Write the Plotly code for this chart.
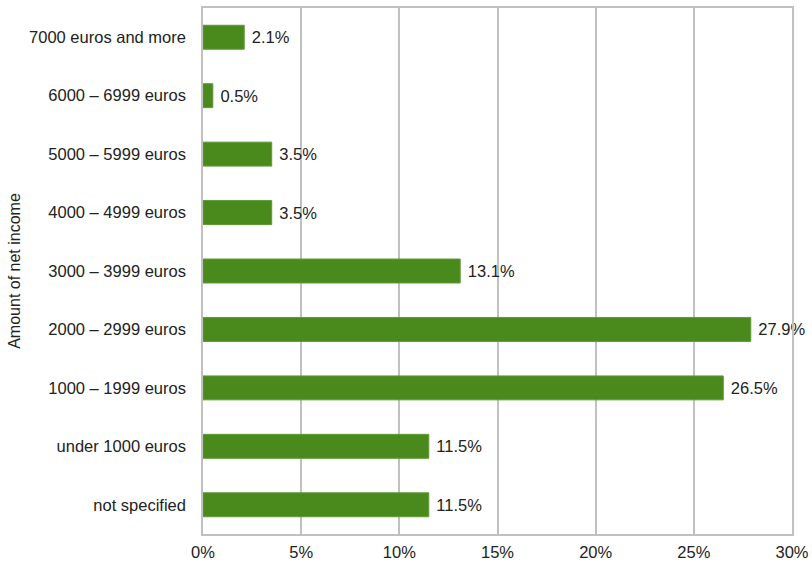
import plotly.graph_objects as go

categories = ["not specified", "under 1000 euros", "1000 – 1999 euros", "2000 – 2999 euros",
              "3000 – 3999 euros", "4000 – 4999 euros", "5000 – 5999 euros",
              "6000 – 6999 euros", "7000 euros and more"]
values = [11.5, 11.5, 26.5, 27.9, 13.1, 3.5, 3.5, 0.5, 2.1]
x_ticks = [0, 5, 10, 15, 20, 25, 30]
x_tick_labels = ["0%", "5%", "10%", "15%", "20%", "25%", "30%"]

fig = go.Figure(go.Bar(
    y=categories, x=values, orientation="h",
    marker=dict(color="#4a891c", line=dict(color="#5f9a36", width=1)),
    width=0.41,
    text=[f" {v}%" for v in values], textposition="outside",
    textfont=dict(family="Liberation Sans, Arial", size=16.5, color="#222222"),
    cliponaxis=False,
))

fig.update_layout(
    width=812, height=563,
    margin=dict(l=203, r=20, t=8, b=29),
    plot_bgcolor="white", paper_bgcolor="white",
    font=dict(family="Liberation Sans, Arial", size=16.5, color="#222222"),
    showlegend=False,
    bargap=0.59,
)
fig.update_xaxes(
    range=[0, 30], tickvals=x_ticks, ticktext=x_tick_labels,
    showgrid=True, gridcolor="#c0c0c0", gridwidth=1.5,
    showline=True, linecolor="#c0c0c0", linewidth=1.5, mirror=True,
    zeroline=False, ticks="", ticklabelstandoff=2, automargin=False,
)
fig.update_yaxes(
    title=dict(text="Amount of net income", standoff=4, font=dict(size=16)),
    categoryorder="array", categoryarray=categories,
    showline=True, linecolor="#c0c0c0", linewidth=1.5, mirror=True,
    showgrid=False, ticks="", ticklabelstandoff=12, automargin=False,
)

fig.write_html("out.html")
